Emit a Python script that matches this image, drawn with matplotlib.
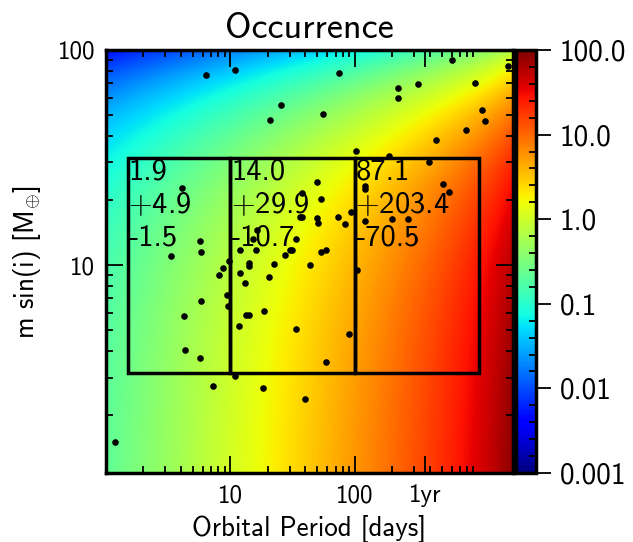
import numpy as np
import matplotlib.pyplot as plt
from matplotlib.patches import Rectangle
from matplotlib.ticker import FixedLocator, LogLocator, NullFormatter, MultipleLocator

plt.rcParams['font.family'] = ['cmss10', 'DejaVu Sans']
plt.rcParams['mathtext.fontset'] = 'cm'
plt.rcParams['axes.unicode_minus'] = False
plt.rcParams['axes.formatter.use_mathtext'] = True

# detected planets: period [days], m sin(i) [Earth masses]
per = [6.41, 10.8, 25.5, 20.7, 4.12, 5.74, 5.85, 3.32, 37.9, 36.0, 37.9, 16.4,
       15.1, 11.9, 16.2, 27.7, 29.9, 31.3, 33.5, 9.82, 8.74, 8.16, 14.1, 14.2,
       22.6, 12.0, 13.2, 20.3, 43.9, 9.41, 5.77, 9.51, 4.27, 13.4, 14.0, 18.5,
       11.7, 33.5, 4.35, 5.67, 10.8, 7.30, 18.2, 40.0, 1.19, 53.5, 59.0, 105,
       89.8, 58.3, 604, 1700, 75.1, 224, 224, 325, 917, 55.1, 1063, 1124,
       782, 449, 103, 190, 397, 511, 577, 121, 121, 49.7, 53.5, 49.7,
       50.6, 73.7, 83.4, 93.2, 120, 198, 267]
msini = [76.2, 80.4, 55.4, 47.4, 22.8, 13.0, 11.5, 11.0, 21.7, 16.8, 16.8, 14.5,
         13.2, 11.8, 11.7, 11.2, 11.8, 11.7, 13.2, 10.4, 9.71, 8.96, 10.25, 9.92,
         10.1, 9.15, 8.22, 8.76, 10.0, 7.27, 6.82, 6.42, 5.79, 5.85, 5.85, 6.09,
         5.22, 5.05, 4.03, 3.68, 3.06, 2.74, 2.69, 2.38, 1.51, 11.5, 11.7, 9.51,
         4.76, 3.56, 90.1, 83.9, 78.1, 66.7, 60.1, 69.4, 70.2, 50.5, 52.5, 46.9,
         42.4, 38.2, 34.1, 32.2, 30.0, 23.7, 21.8, 23.2, 22.5, 24.4, 20.2, 16.5,
         15.7, 16.7, 15.6, 17.7, 16.0, 16.4, 16.3]

# occurrence bins and values (median, +err, -err)
bin_edges_p = [1.5, 10, 100, 1000]
bin_m = [10 ** 0.5, 10 ** 1.5]
occ_mid = ['1.9', '14.0', '87.1']
occ_hi = ['4.9', '29.9', '203.4']
occ_lo = ['1.5', '10.7', '70.5']

# background occurrence model (log10), coefficients
LOGF0 = -0.65
PER_SLOPE = 0.70
PER_LIN = 0.00017
MASS_SCALE = 0.0166
MASS_TILT = 0.08

xticks = [10, 100, 365]
xticklabels = ['10', '100', '1yr']
yticks = [10, 100]
yticklabels = ['10', '100']
cticks = [-3, -2, -1, 0, 1, 2]
cticklabels = ['0.001', '0.01', '0.1', '1.0', '10.0', '100.0']

xmin, xmax = 1.0, 1870.0
ymin, ymax = 1.08, 100.0

fig = plt.figure(figsize=(6.33, 5.42), dpi=100)
ax = fig.add_axes([106 / 633, 1 - 473 / 542, 407 / 633, 423 / 542])
cax = fig.add_axes([516 / 633, 1 - 473 / 542, 20 / 633, 423 / 542])

pg = np.logspace(np.log10(xmin), np.log10(xmax), 300)
mg = np.logspace(np.log10(ymin), np.log10(ymax), 300)
PP, MM = np.meshgrid(pg, mg)
lp = np.log10(PP)
logf = LOGF0 + PER_SLOPE * lp + PER_LIN * PP - MASS_SCALE * (1 + MASS_TILT * lp) * MM
mesh = ax.pcolormesh(PP, MM, logf, cmap='jet', vmin=-3, vmax=2,
                     shading='gouraud', rasterized=True)

for i in range(3):
    x0, x1 = bin_edges_p[i], bin_edges_p[i + 1]
    ax.add_patch(Rectangle((x0, bin_m[0]), x1 - x0, bin_m[1] - bin_m[0],
                           fill=False, ec='k', lw=2.5, zorder=4))
    ax.text(x0 * 1.01, bin_m[1] * 0.985,
            f'{occ_mid[i]}\n$+${occ_hi[i]}\n-{occ_lo[i]}',
            ha='left', va='top', fontsize=22, linespacing=1.25, zorder=5)

ax.scatter(per, msini, s=14, c='k', zorder=3)

ax.set_xscale('log')
ax.set_yscale('log')
ax.set_xlim(xmin, xmax)
ax.set_ylim(ymin, ymax)

ax.xaxis.set_major_locator(FixedLocator(xticks))
ax.set_xticklabels(xticklabels)
ax.xaxis.set_minor_locator(LogLocator(subs=np.arange(2, 10)))
ax.xaxis.set_minor_formatter(NullFormatter())
ax.yaxis.set_major_locator(FixedLocator(yticks))
ax.set_yticklabels(yticklabels)
ax.yaxis.set_minor_locator(LogLocator(subs=np.arange(2, 10)))
ax.yaxis.set_minor_formatter(NullFormatter())

ax.tick_params(which='both', direction='in', top=True, right=True, width=1.3,
               labelsize=18)
ax.tick_params(which='major', length=12, pad=8)
ax.tick_params(which='minor', length=5)
for s in ax.spines.values():
    s.set_linewidth(2.5)

ax.set_xlabel('Orbital Period [days]', fontsize=19.5, labelpad=6)
ax.set_ylabel(r'm sin(i) [$\mathsf{M}_{\oplus}$]', fontsize=19.5, labelpad=10)
ax.set_title('Occurrence', fontsize=26, pad=9)

cb = fig.colorbar(mesh, cax=cax)
cb.set_ticks(cticks)
cb.set_ticklabels(cticklabels)
cax.yaxis.set_minor_locator(MultipleLocator(0.2))
cax.tick_params(which='major', direction='out', length=11, width=1.3,
                labelsize=21, pad=6)
cax.tick_params(which='minor', direction='in', length=5, width=1.3)
cb.outline.set_linewidth(2.5)

fig.savefig('out.png', dpi=100)
